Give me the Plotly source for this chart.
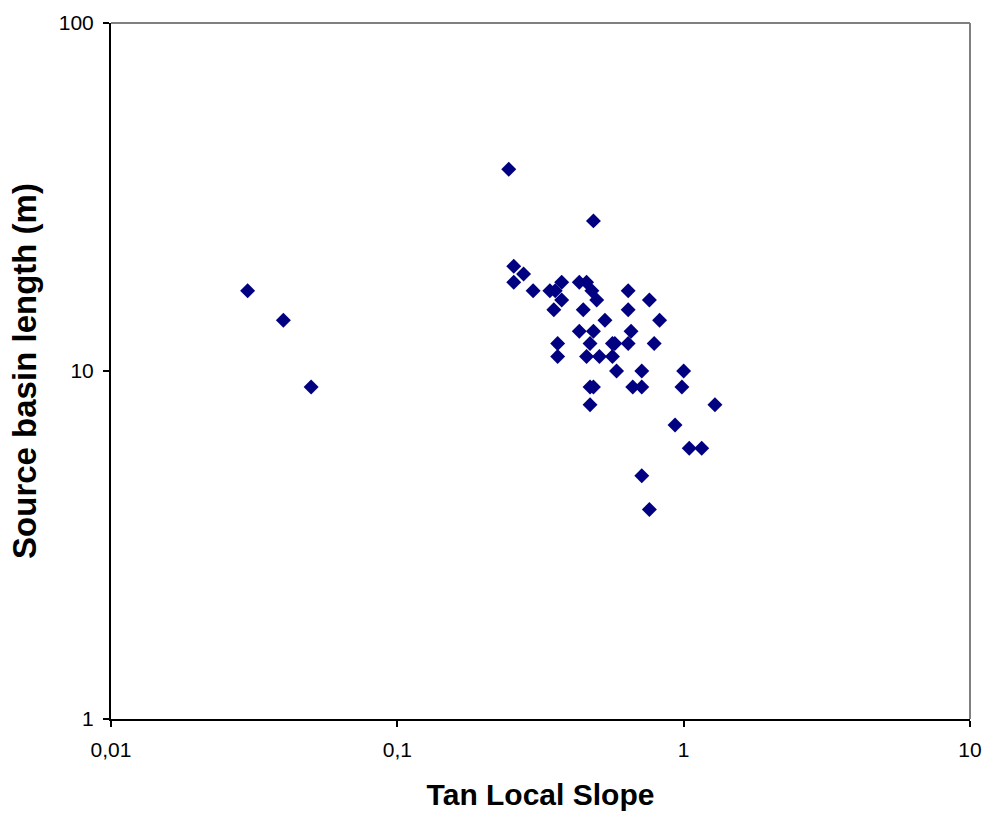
import plotly.graph_objects as go

tan_slope = [0.03, 0.04, 0.05, 0.245, 0.484, 0.255, 0.276, 0.255, 0.298, 0.341,
             0.356, 0.375, 0.375, 0.352, 0.432, 0.458, 0.478, 0.497, 0.446, 0.640,
             0.640, 0.759, 0.531, 0.824, 0.432, 0.484, 0.655, 0.363, 0.471, 0.564,
             0.575, 0.640, 0.789, 0.363, 0.458, 0.508, 0.564, 0.583, 0.714, 1.0,
             0.471, 0.484, 0.664, 0.714, 0.986, 0.471, 1.286, 0.933, 1.046, 1.156,
             0.714, 0.759]
basin_length = [17, 14, 9, 38, 27, 20, 19, 18, 17, 17,
                17, 18, 16, 15, 18, 18, 17, 16, 15, 17,
                15, 16, 14, 14, 13, 13, 13, 12, 12, 12,
                12, 12, 12, 11, 11, 11, 11, 10, 10, 10,
                9, 9, 9, 9, 9, 8, 8, 7, 6, 6,
                5, 4]

x_tickvals = [0.01, 0.1, 1, 10]
x_ticktext = ["0,01", "0,1", "1", "10"]
y_tickvals = [1, 10, 100]
y_ticktext = ["1", "10", "100"]

fig = go.Figure()
fig.add_trace(go.Scatter(
    x=tan_slope, y=basin_length, mode="markers",
    marker=dict(symbol="diamond", size=11.5, color="#000080", line=dict(width=0)),
    showlegend=False,
))

font_family = "Liberation Sans, Arial, sans-serif"
fig.update_layout(
    width=986, height=816,
    margin=dict(l=111, r=16, t=23, b=97),
    paper_bgcolor="white", plot_bgcolor="white",
    font=dict(family=font_family, color="black", size=20),
    xaxis=dict(
        type="log", range=[-2, 1], automargin=False,
        tickvals=x_tickvals, ticktext=x_ticktext, ticklabeloverflow="allow",
        ticks="outside", ticklen=6, tickwidth=1.5, tickcolor="black",
        ticklabelstandoff=5,
        showline=True, linecolor="black", linewidth=2,
        showgrid=False, zeroline=False,
        tickfont=dict(size=21),
        title=dict(text="<b>Tan Local Slope</b>", font=dict(size=30), standoff=24),
    ),
    yaxis=dict(
        type="log", range=[0, 2], automargin=False,
        tickvals=y_tickvals, ticktext=y_ticktext, ticklabeloverflow="allow",
        ticks="outside", ticklen=6, tickwidth=1.5, tickcolor="black",
        ticklabelstandoff=5,
        showline=True, linecolor="black", linewidth=2,
        showgrid=False, zeroline=False,
        tickfont=dict(size=21),
        title=dict(text="<b>Source basin length (m)</b>", font=dict(size=33), standoff=12),
    ),
    shapes=[
        dict(type="line", xref="x domain", yref="y domain", x0=0, x1=1, y0=1, y1=1,
             line=dict(color="#808080", width=2), layer="below"),
        dict(type="line", xref="x domain", yref="y domain", x0=1, x1=1, y0=0, y1=1,
             line=dict(color="#808080", width=2), layer="below"),
    ],
)

# remove the browser's default 8px body margin so the figure fills the window exactly
fig.write_html(
    "out.html",
    config={"displayModeBar": False},
    post_script="document.body.style.margin='0';document.body.style.overflow='hidden';",
)
